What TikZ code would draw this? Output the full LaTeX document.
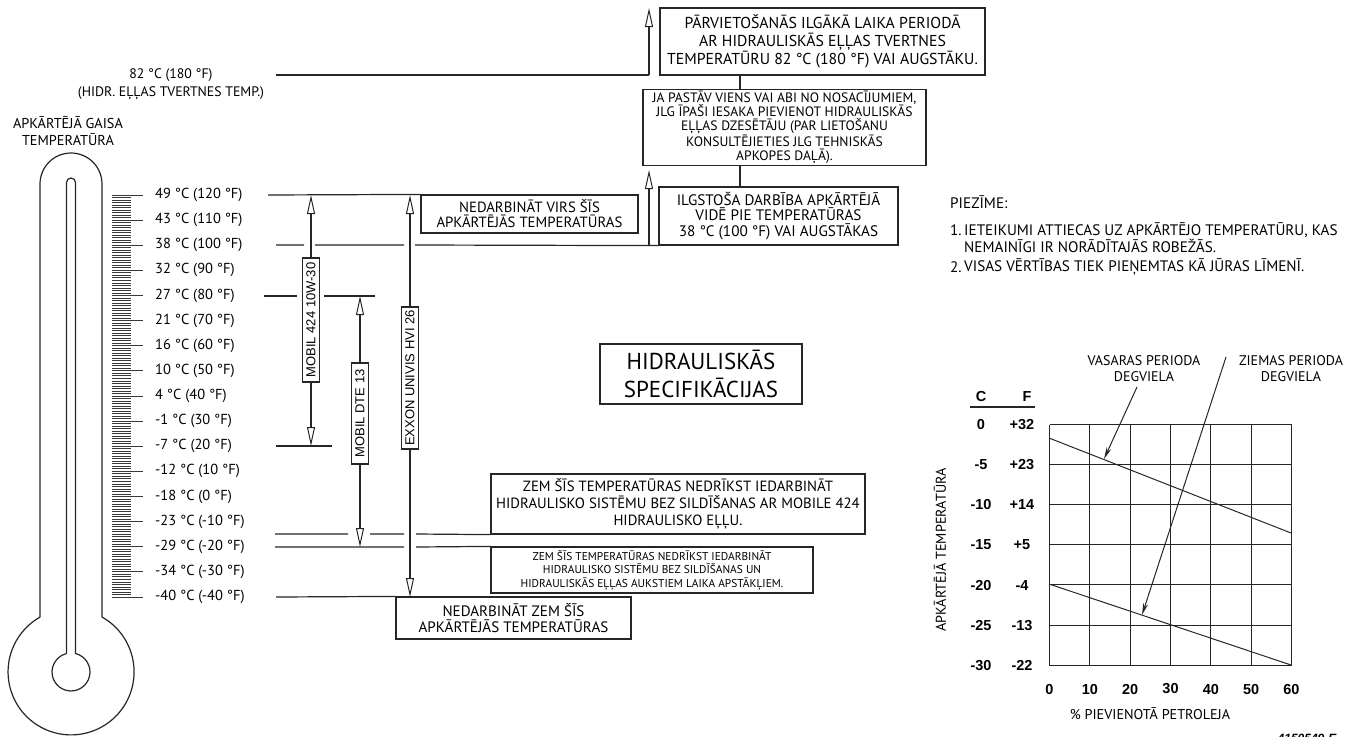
\documentclass[tikz,border=0pt]{standalone}
\usepackage{fontspec}
\setmainfont{PT Sans}
\newfontfamily\arialfont{Liberation Sans}
\usetikzlibrary{arrows.meta}
\newcommand\setfs[2]{\fontsize{#1}{#2}\selectfont}
\begin{document}
\begin{tikzpicture}[x=1pt,y=-1pt,
  ink/.style={draw=black!85,line width=1.2pt},
  tick/.style={draw=black!78,line width=0.85pt},
  box/.style={ink,align=center,inner sep=0pt,fill=white,text=black},
  heavybox/.style={box,line width=2.4pt},
  openup/.style={ink,-{Triangle[open,length=19pt,width=8pt,line width=1pt]}},
  pointer/.style={draw=black!85,line width=1pt,-{Stealth[length=12pt,width=5pt]}},
  lbl/.style={inner sep=0pt,text=black},
  tag/.style={box,rotate=90,font=\arialfont\setfs{13}{14},minimum height=17pt},
  num/.style={lbl,font=\arialfont\bfseries\setfs{14.5}{16}},
  note/.style={lbl,anchor=west,font=\setfs{15.2}{15}},
]
\useasboundingbox (0,0) rectangle (1346,736);

% ---------- thermometer ----------
\draw[ink] (40,617) -- (40,184) arc[start angle=180,end angle=360,radius=31]
  -- (102,617) arc[start angle=-60.6,end angle=240.6,radius=63];
\draw[ink] (66.5,653.5) -- (66.5,182.5) arc[start angle=180,end angle=360,radius=4.5]
  -- (75.5,653.5) arc[start angle=-76.3,end angle=256.3,radius=19];

% scale: one tick per degree F, long tick every 10 degrees
\foreach \f in {-40,...,120}
  \draw[tick] (112,{195+(120-\f)*2.5125}) -- (131,{195+(120-\f)*2.5125});
\foreach \f in {-40,-30,...,120}
  \draw[tick] (112,{195+(120-\f)*2.5125}) -- (143,{195+(120-\f)*2.5125});

\foreach \f/\txt in {120/{49 °C (120 °F)},110/{43 °C (110 °F)},100/{38 °C (100 °F)},
    90/{32 °C (90 °F)},80/{27 °C (80 °F)},70/{21 °C (70 °F)},60/{16 °C (60 °F)},
    50/{10 °C (50 °F)},40/{4 °C (40 °F)},30/{-1 °C (30 °F)},20/{-7 °C (20 °F)},
    10/{-12 °C (10 °F)},0/{-18 °C (0 °F)},-10/{-23 °C (-10 °F)},-20/{-29 °C (-20 °F)},
    -30/{-34 °C (-30 °F)},-40/{-40 °C (-40 °F)}}
  \node[lbl,anchor=west,font=\setfs{14.5}{16}] (deg\f) at (155,{195+(120-\f)*2.5125}) {\txt};

\node[lbl,align=center,font=\setfs{14.3}{17}] (airtemp) at (68,131) {APKĀRTĒJĀ GAISA\\TEMPERATŪRA};
\node[lbl,align=center,font=\setfs{13.8}{18}] (tanktemp) at (171,84) {82 °C (180 °F)\\(HIDR. EĻĻAS TVERTNES TEMP.)};

% ---------- boxes ----------
\node[heavybox,minimum width=325pt,minimum height=67pt,font=\setfs{15.8}{18}] (travel) at (822.5,41.5)
  {PĀRVIETOŠANĀS ILGĀKĀ LAIKA PERIODĀ\\AR HIDRAULISKĀS EĻĻAS TVERTNES\\TEMPERATŪRU 82 °C (180 °F) VAI AUGSTĀKU.};
\node[box,minimum width=283pt,minimum height=76pt,font=\setfs{13.6}{14}] (cooler) at (784.5,127.5)
  {JA PASTĀV VIENS VAI ABI NO NOSACĪJUMIEM,\\JLG ĪPAŠI IESAKA PIEVIENOT HIDRAULISKĀS\\EĻĻAS DZESĒTĀJU (PAR LIETOŠANU\\KONSULTĒJIETIES JLG TEHNISKĀS\\APKOPES DAĻĀ).};
\node[box,minimum width=239pt,minimum height=58pt,font=\setfs{15.2}{15.5}] (steady) at (778.5,216)
  {ILGSTOŠA DARBĪBA APKĀRTĒJĀ\\VIDĒ PIE TEMPERATŪRAS\\38 °C (100 °F) VAI AUGSTĀKAS};
\node[box,minimum width=217pt,minimum height=38pt,font=\setfs{14.8}{15}] (above) at (529.5,214)
  {NEDARBINĀT VIRS ŠĪS\\APKĀRTĒJĀS TEMPERATŪRAS};
\node[heavybox,minimum width=202pt,minimum height=60pt,font=\setfs{23}{28}] (title) at (701,374)
  {HIDRAULISKĀS\\SPECIFIKĀCIJAS};
\node[box,minimum width=374pt,minimum height=60pt,font=\setfs{14.8}{17}] (noheat) at (678,504)
  {ZEM ŠĪS TEMPERATŪRAS NEDRĪKST IEDARBINĀT\\HIDRAULISKO SISTĒMU BEZ SILDĪŠANAS AR MOBILE 424\\HIDRAULISKO EĻĻU.};
\node[box,minimum width=322pt,minimum height=46pt,font=\setfs{11.4}{13.5}] (nocold) at (652,570)
  {ZEM ŠĪS TEMPERATŪRAS NEDRĪKST IEDARBINĀT\\HIDRAULISKO SISTĒMU BEZ SILDĪŠANAS UN\\HIDRAULISKĀS EĻĻAS AUKSTIEM LAIKA APSTĀKĻIEM.};
\node[box,minimum width=235pt,minimum height=42pt,font=\setfs{15.1}{16}] (below) at (513.5,618)
  {NEDARBINĀT ZEM ŠĪS\\APKĀRTĒJĀS TEMPERATŪRAS};

% ---------- level lines ----------
\coordinate (t82) at (276,75);
\coordinate (a82) at (649,75);
\coordinate (a82tip) at (649,8);
\draw[ink] (t82) -- (a82);
\draw[openup] (a82) -- (a82tip);

\coordinate (cx) at (740,0);
\draw[ink] (travel.south -| cx) -- (cooler.north -| cx);
\draw[ink] (cooler.south -| cx) -- (steady.north -| cx);

\coordinate (a38) at (649,245);
\coordinate (a38tip) at (649,170);
\draw[openup] (a38) -- (a38tip);

\draw[ink] (268,195) -- (above.north west);
\draw[ink] (276,245) -- (304,245) (315,245) -- (404,245) (415,245) -- (steady.south west);
\draw[ink] (264,296) -- (297,296) (324,296) -- (375,296);
\draw[ink] (276,446) -- (332,446);
\draw[ink] (275,534) -- (348,534) (370,534) -- (404,534) (416,534) -- (noheat.south west);
\draw[ink] (275,547) -- (404,547) (416,547) -- (nocold.north west);
\draw[ink] (276,597) -- (below.north west);

% ---------- oil ranges ----------
\coordinate (m424c) at (311,320);
\coordinate (m424hi) at (311,195);
\coordinate (m424lo) at (311,446);
\draw[openup] (m424c) -- (m424hi);
\draw[openup] (m424c) -- (m424lo);
\node[tag,minimum width=124pt] (m424) at (m424c) {MOBIL 424 10W-30};

\coordinate (dte13c) at (360,413.5);
\coordinate (dte13hi) at (360,296);
\coordinate (dte13lo) at (360,547);
\draw[openup] (dte13c) -- (dte13hi);
\draw[openup] (dte13c) -- (dte13lo);
\node[tag,minimum width=101pt] (dte13) at (dte13c) {MOBIL DTE 13};

\coordinate (hvic) at (410,378);
\coordinate (hvihi) at (410,195);
\coordinate (hvilo) at (410,597);
\draw[openup] (hvic) -- (hvihi);
\draw[openup] (hvic) -- (hvilo);
\node[tag,minimum width=142pt] (hvi) at (hvic) {EXXON UNIVIS HVI 26};

% ---------- notes ----------
\node[note] (nhead) at (950,202) {PIEZĪME:};
\node[note] (n1) at (950,230) {1.};
\node[note,align=left] (n1t) at (964,237.5) {IETEIKUMI ATTIECAS UZ APKĀRTĒJO TEMPERATŪRU, KAS\\NEMAINĪGI IR NORĀDĪTAJĀS ROBEŽĀS.};
\node[note] (n2) at (950,267) {2.};
\node[note] (n2t) at (964,267) {VISAS VĒRTĪBAS TIEK PIEŅEMTAS KĀ JŪRAS LĪMENĪ.};

% ---------- kerosene chart ----------
\foreach \gx in {1049.5,1089.5,1130.5,1170.5,1210.5,1251.5,1291.5}
  \draw[ink,line width=1.3pt] (\gx,424.5) -- (\gx,665.5);
\foreach \gy in {424.5,464.5,504.5,544.5,584.5,625.5,665.5}
  \draw[ink,line width=1.3pt] (1049.5,\gy) -- (1291.5,\gy);
\coordinate (s0) at (1049,438);
\coordinate (s60) at (1291,533);
\coordinate (w0) at (1049,584);
\coordinate (w60) at (1291,665);
\draw[ink,line width=1pt] (s0) -- (s60);
\draw[ink,line width=1pt] (w0) -- (w60);

\foreach \c/\fv [count=\i from 0] in {0/+32,-5/+23,-10/+14,-15/+5,-20/-4,-25/-13,-30/-22} {
  \node[num] (cval\i) at (981,{424.5+\i*40.17}) {\c};
  \node[num] (fval\i) at (1022,{424.5+\i*40.17}) {\fv};
}
\node[num] (chead) at (981,397) {C};
\node[num] (fhead) at (1027,397) {F};
\draw[ink] (970,407) -- (1035,407);

\foreach \p [count=\i from 0] in {0,10,...,60}
  \node[num] (pct\i) at ({1049.5+\i*40.33},689) {\p};

\node[lbl,font=\setfs{14.2}{15}] (xaxis) at (1150,714) {\% PIEVIENOTĀ PETROLEJA};
\node[lbl,rotate=90,font=\setfs{14.2}{15}] (yaxis) at (940,550) {APKĀRTĒJĀ TEMPERATŪRA};

\node[lbl,align=center,font=\setfs{14}{16}] (summer) at (1144,369) {VASARAS PERIODA\\DEGVIELA};
\node[lbl,align=center,font=\setfs{14}{16}] (winter) at (1291,369) {ZIEMAS PERIODA\\DEGVIELA};
\coordinate (sfrom) at (1137,387);
\coordinate (sto) at (1104,459);
\coordinate (wfrom) at (1226,357);
\coordinate (wto) at (1142,615);
\draw[pointer] (sfrom) -- (sto);
\draw[pointer] (wfrom) -- (wto);

% drawing number at the lower edge
\node[lbl,anchor=base,font=\arialfont\bfseries\itshape\setfs{12}{14}] (dwg) at (1307,742) {4150549-E};
\end{tikzpicture}
\end{document}
